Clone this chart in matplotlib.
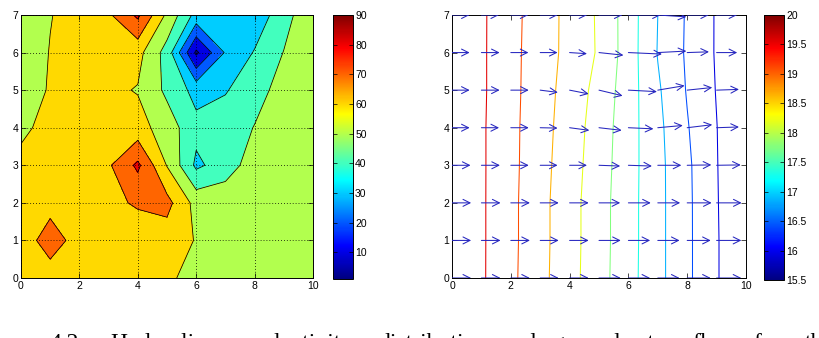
import numpy as np
import matplotlib
matplotlib.use('Agg')
import matplotlib.pyplot as plt
from matplotlib.colors import Normalize, LinearSegmentedColormap
from matplotlib.cm import ScalarMappable

# ---------------- data ----------------
x_grid = [0, 1, 2, 3, 4, 5, 6, 7, 8, 9, 10]
y_grid = [0, 1, 2, 3, 4, 5, 6, 7]

# hydraulic conductivity, rows y = 0..7, columns x = 0..10
conductivity = [
    [61, 63, 63, 63, 63, 61, 58, 56, 55, 55, 55],
    [62, 77, 64, 63, 62.7, 64.8, 59.5, 56, 55, 55, 55],
    [63, 65, 65, 67, 71.5, 73.2, 56.5, 57, 57, 57, 56],
    [62, 64, 65, 68.7, 82, 59.5, 38, 44.7, 55.3, 55, 55],
    [58.5, 62.3, 64, 65, 64, 55, 43, 47, 50.2, 53, 55],
    [54, 61, 64, 62, 59.4, 47.9, 36.6, 39, 48, 52, 54],
    [52, 60.5, 65, 66, 63.3, 46, 8, 31, 40.7, 50.3, 53],
    [53, 59.5, 65, 68.5, 82, 58, 36.6, 34, 33.5, 46, 58],
]
k_fill_levels = [0, 10, 20, 30, 40, 50, 60, 70, 80, 90]
k_line_levels = [10, 20, 30, 40, 50, 60, 70, 80]
k_cbar_ticks = [10, 20, 30, 40, 50, 60, 70, 80, 90]
k_range = (1, 90)

# hydraulic head, rows y = 0..7, columns x = 0..10
head = [
    [20, 19.61, 19.20, 18.78, 18.36, 17.92, 17.46, 16.98, 16.49, 15.99, 15.5],
    [20, 19.61, 19.21, 18.79, 18.37, 17.93, 17.47, 16.98, 16.49, 15.99, 15.5],
    [20, 19.61, 19.21, 18.79, 18.37, 17.93, 17.47, 16.98, 16.49, 15.98, 15.5],
    [20, 19.61, 19.22, 18.81, 18.40, 17.96, 17.48, 16.98, 16.48, 15.97, 15.5],
    [20, 19.61, 19.22, 18.83, 18.43, 17.99, 17.49, 16.96, 16.43, 15.96, 15.5],
    [20, 19.62, 19.23, 18.85, 18.47, 18.05, 17.51, 16.91, 16.37, 15.93, 15.5],
    [20, 19.62, 19.23, 18.87, 18.52, 18.15, 17.53, 16.83, 16.34, 15.91, 15.5],
    [20, 19.62, 19.24, 18.88, 18.52, 18.14, 17.53, 16.85, 16.35, 15.91, 15.5],
]
head_levels = [15.95, 16.4, 16.85, 17.3, 17.75, 18.2, 18.65, 19.1, 19.55]
head_cbar_ticks = [15.5, 16, 16.5, 17, 17.5, 18, 18.5, 19, 19.5, 20]
head_cbar_labels = ['15.5', '16', '16.5', '17', '17.5', '18', '18.5', '19', '19.5', '20']
head_range = (15.5, 20)

# flow vectors at x = 0..9, rows y = 0..7
flow_x = [0, 1, 2, 3, 4, 5, 6, 7, 8, 9]
flow_u = [
    [0.65, 0.65, 0.65, 0.63, 0.65, 0.74, 0.74, 0.74, 0.80, 0.84],
    [0.65, 0.65, 0.65, 0.63, 0.65, 0.74, 0.74, 0.74, 0.80, 0.84],
    [0.65, 0.65, 0.65, 0.63, 0.65, 0.72, 0.76, 0.76, 0.83, 0.85],
    [0.63, 0.63, 0.61, 0.59, 0.59, 0.72, 0.80, 0.80, 0.82, 0.82],
    [0.60, 0.60, 0.61, 0.59, 0.67, 0.77, 0.85, 0.85, 0.85, 0.76],
    [0.60, 0.62, 0.61, 0.60, 0.65, 0.80, 0.97, 0.91, 0.85, 0.76],
    [0.60, 0.62, 0.60, 0.59, 0.59, 0.83, 1.14, 0.97, 0.74, 0.70],
    [0.60, 0.60, 0.60, 0.60, 0.60, 0.80, 1.10, 0.97, 0.74, 0.70],
]
flow_v = [
    [0, 0, 0, 0, 0, 0, 0, 0, 0, 0],
    [0, 0, 0, 0, 0, 0, 0, 0, 0, 0],
    [0, 0, 0, 0, 0, 0, 0, 0, 0, 0],
    [0, 0, 0, 0, 0, -0.02, -0.02, 0, 0.01, 0.01],
    [0, 0, 0, -0.01, -0.07, -0.07, -0.03, 0.06, 0.08, 0.02],
    [0, 0, 0, -0.06, -0.10, -0.15, -0.04, 0.12, 0.07, 0.02],
    [0, 0, 0, 0, -0.03, -0.07, -0.04, 0.04, 0.02, 0],
    [0, 0, 0, 0, 0, 0, 0, -0.05, 0, 0],
]

x_ticks = [0, 2, 4, 6, 8, 10]
y_ticks = [0, 1, 2, 3, 4, 5, 6, 7]

caption_words = ['4.2:', 'Hydraulic', 'conductivity', 'distribution', 'and',
                 'groundwater', 'flow', 'from', 'th']
caption_x_px = [50, 110, 234, 378, 502, 553, 692, 753, 805]

# ---------------- figure ----------------
W, H = 820, 338
fig = plt.figure(figsize=(W / 100, H / 100), dpi=100)
fig.patch.set_facecolor('white')

tick_font = dict(family='Liberation Sans', size=7.5)

# MATLAB-style jet colormap
jet = LinearSegmentedColormap('mjet', {
    'red':   [(0, 0, 0), (0.375, 0, 0), (0.625, 1, 1), (0.875, 1, 1), (1, 0.5, 0.5)],
    'green': [(0, 0, 0), (0.125, 0, 0), (0.375, 1, 1), (0.625, 1, 1), (0.875, 0, 0), (1, 0, 0)],
    'blue':  [(0, 0.5, 0.5), (0.125, 1, 1), (0.375, 1, 1), (0.625, 0, 0), (1, 0, 0)],
}, N=256)


def px_axes(x0, y0, x1, y1):
    return fig.add_axes([x0 / W, 1 - y1 / H, (x1 - x0) / W, (y1 - y0) / H])


axL = px_axes(21, 15, 313, 278)
caxL = px_axes(333, 15, 353, 279)
axR = px_axes(452, 15, 746, 278)
caxR = px_axes(764, 15, 784, 280)

X, Y = np.meshgrid(x_grid, y_grid)

# ---- left: filled contour ----
Z = np.array(conductivity, dtype=float)
normK = Normalize(*k_range)
band_colors = [jet(normK(max(l, k_range[0]))) for l in k_fill_levels[:-1]]
axL.contourf(X, Y, Z, levels=k_fill_levels, colors=band_colors)
axL.contour(X, Y, Z, levels=k_line_levels, colors='k', linewidths=0.55)
axL.set_axisbelow(False)
axL.grid(True, color='k', linestyle=(0, (1, 2.5)), linewidth=0.6)

# ---- right: head contours + flow arrows ----
Hd = np.array(head, dtype=float)
normH = Normalize(*head_range)
axR.contour(X, Y, Hd, levels=head_levels, cmap=jet, norm=normH, linewidths=0.75)

arrow_color = (0.15, 0.15, 0.75)
for j, yy in enumerate(y_grid):
    for i, xx in enumerate(flow_x):
        u = flow_u[j][i]
        v = flow_v[j][i]
        ann = axR.annotate('', xy=(xx + u, yy + v), xytext=(xx, yy),
                           xycoords='data', textcoords='data',
                           annotation_clip=False,
                           arrowprops=dict(arrowstyle='->,head_length=0.5,head_width=0.25',
                                           color=arrow_color, lw=0.75,
                                           shrinkA=0, shrinkB=0,
                                           mutation_scale=10))
        ann.arrow_patch.set_clip_box(axR.bbox)

for ax in (axL, axR):
    ax.set_xlim(0, 10)
    ax.set_ylim(0, 7)
    ax.set_xticks(x_ticks)
    ax.set_yticks(y_ticks)
    ax.set_xticklabels([str(t) for t in x_ticks], **tick_font)
    ax.set_yticklabels([str(t) for t in y_ticks], **tick_font)
    ax.tick_params(direction='in', top=True, right=True, length=3.5,
                   width=0.5, pad=2, colors='k')
    for s in ax.spines.values():
        s.set_linewidth(0.7)
        s.set_color('k')

# ---- colorbars ----
cbL = fig.colorbar(ScalarMappable(norm=normK, cmap=jet), cax=caxL, ticks=k_cbar_ticks)
cbL.ax.set_yticklabels([str(t) for t in k_cbar_ticks], **tick_font)
cbR = fig.colorbar(ScalarMappable(norm=normH, cmap=jet), cax=caxR, ticks=head_cbar_ticks)
cbR.ax.set_yticklabels(head_cbar_labels, **tick_font)
for cb in (cbL, cbR):
    cb.outline.set_linewidth(0.7)
    cb.ax.tick_params(direction='in', left=True, right=True, length=3,
                      width=0.5, pad=1.5, labelleft=False, labelright=True)

# ---- caption (cut off by the bottom edge, as in the source) ----
for word, xp in zip(caption_words, caption_x_px):
    fig.text(xp / W, -11 / H, word, family='Liberation Serif', fontsize=17,
             ha='left', va='baseline', color='k')

fig.savefig('out.png', dpi=100)
